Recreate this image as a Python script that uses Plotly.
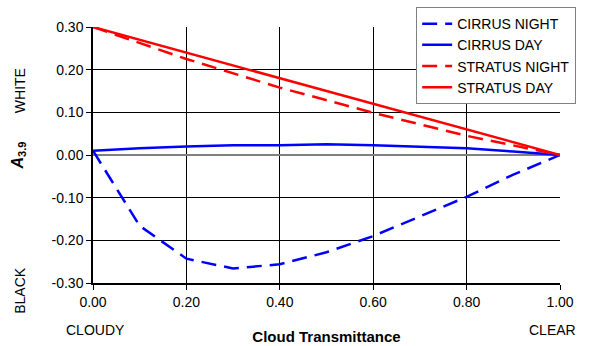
import plotly.graph_objects as go

x_cirrus = [0.0, 0.1, 0.2, 0.3, 0.4, 0.5, 0.6, 0.7, 0.8, 0.9, 1.0]
cirrus_night = [0.010, -0.166, -0.243, -0.266, -0.256, -0.228, -0.190, -0.144, -0.098, -0.046, 0.0]
cirrus_day = [0.010, 0.016, 0.020, 0.023, 0.023, 0.025, 0.023, 0.020, 0.016, 0.008, 0.0]
x_stratus = [0.0, 0.2, 0.4, 0.6, 0.8, 1.0]
stratus_night = [0.300, 0.225, 0.158, 0.099, 0.045, 0.0]
stratus_day = [0.300, 0.240, 0.180, 0.120, 0.060, 0.0]

x_ticks = [0.0, 0.2, 0.4, 0.6, 0.8, 1.0]
x_tick_labels = ["0.00", "0.20", "0.40", "0.60", "0.80", "1.00"]
y_ticks = [-0.3, -0.2, -0.1, 0.0, 0.1, 0.2, 0.3]
y_tick_labels = ["-0.30", "-0.20", "-0.10", "0.00", "0.10", "0.20", "0.30"]

BLUE = "#0000FF"
RED = "#FF0000"
FONT = "Liberation Sans, Arial, sans-serif"

fig = go.Figure()
fig.add_trace(go.Scatter(x=x_cirrus, y=cirrus_night, mode="lines", name="CIRRUS NIGHT",
                         line=dict(color=BLUE, width=2.5, dash="15px,8px")))
fig.add_trace(go.Scatter(x=x_cirrus, y=cirrus_day, mode="lines", name="CIRRUS DAY",
                         line=dict(color=BLUE, width=2.5)))
fig.add_trace(go.Scatter(x=x_stratus, y=stratus_night, mode="lines", name="STRATUS NIGHT",
                         line=dict(color=RED, width=2.5, dash="15px,8px")))
fig.add_trace(go.Scatter(x=x_stratus, y=stratus_day, mode="lines", name="STRATUS DAY",
                         line=dict(color=RED, width=2.5)))

fig.update_layout(
    width=589, height=346,
    margin=dict(l=93, r=29, t=27, b=63, autoexpand=False),
    paper_bgcolor="white", plot_bgcolor="white",
    font=dict(family=FONT, size=14, color="black"),
    showlegend=True,
    legend=dict(x=0.692, y=1.078, xanchor="left", yanchor="top",
                bgcolor="white", bordercolor="#808080", borderwidth=1,
                font=dict(size=14, family=FONT), itemwidth=30,
                tracegroupgap=0),
    xaxis=dict(range=[0, 1], tickvals=x_ticks, ticktext=x_tick_labels,
               showgrid=True, gridcolor="black", gridwidth=1,
               showline=True, linecolor="black", linewidth=1.5,
               ticks="outside", ticklen=5, tickcolor="black",
               zeroline=False, automargin=False,
               title=dict(text="<b>Cloud Transmittance</b>", font=dict(size=15), standoff=23)),
    yaxis=dict(range=[-0.3, 0.3], tickvals=y_ticks, ticktext=y_tick_labels,
               showgrid=True, gridcolor="black", gridwidth=1,
               showline=True, linecolor="black", linewidth=1.5,
               ticks="outside", ticklen=5, tickcolor="black",
               zeroline=True, zerolinecolor="#808080", zerolinewidth=2,
               automargin=False,
               title=dict(text="<b><i>A</i><sub>3.9</sub></b>", font=dict(size=16), standoff=24)),
)

fig.add_annotation(text="WHITE", xref="paper", yref="paper", x=-0.156, y=0.75,
                   textangle=-90, showarrow=False, font=dict(size=14), xanchor="center", yanchor="middle")
fig.add_annotation(text="BLACK", xref="paper", yref="paper", x=-0.156, y=-0.03,
                   textangle=-90, showarrow=False, font=dict(size=14), xanchor="center", yanchor="middle")
fig.add_annotation(text="CLOUDY", xref="paper", yref="paper", x=0.006, y=-0.185,
                   showarrow=False, font=dict(size=14), xanchor="center", yanchor="middle")
fig.add_annotation(text="CLEAR", xref="paper", yref="paper", x=0.985, y=-0.185,
                   showarrow=False, font=dict(size=14), xanchor="center", yanchor="middle")

fig.write_html("out.html", config={"displayModeBar": False},
               post_script="document.body.style.margin='0';document.body.style.padding='0';")
